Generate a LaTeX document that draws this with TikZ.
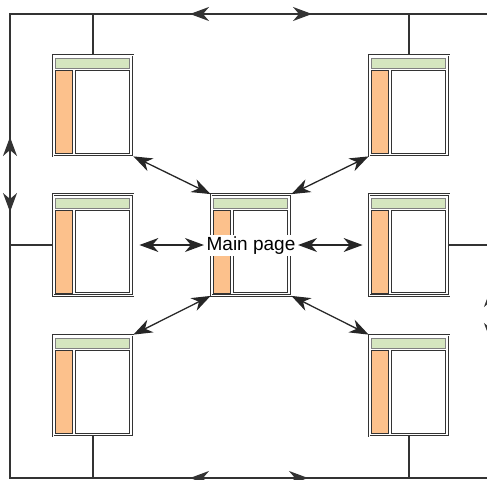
\documentclass[tikz,border=0pt]{standalone}
\usepackage{fontspec}
\setmainfont{Liberation Sans}
\usetikzlibrary{arrows.meta}
\definecolor{barGreen}{HTML}{D5E6BF}
\definecolor{barOrange}{HTML}{FCC18C}
\definecolor{lineGray}{HTML}{333333}
\begin{document}
\begin{tikzpicture}[x=1pt, y=-1pt, >={Stealth[length=19pt, width=14pt, inset=6pt]},
	page/.style={rectangle, draw=lineGray, double=white, double distance=0.8pt, line width=0.8pt, minimum width=80pt, minimum height=101pt, inner sep=0pt},
	green bar/.style={fill=barGreen, draw=gray, line width=0.6pt},
	side bar/.style={fill=barOrange, draw=lineGray, line width=0.6pt},
	text area/.style={fill=white, draw=lineGray, line width=0.9pt},
	link/.style={draw=black!85, line width=1.3pt},
	frame line/.style={draw=lineGray, line width=1.5pt}]
	\useasboundingbox (0,0) rectangle (487,479);
	% the seven pages
	\foreach \n/\px/\py in {TL/93/105.5, ML/93/245, BL/93/385.5, C/251/245, TR/409/105.5, MR/409/245, BR/409/385.5} {
		\node[page] (\n) at (\px,\py) {};
		\begin{scope}[shift={(\px,\py)}]
			\filldraw[green bar] (-38,-46.8) rectangle (36.3,-37.2);
			\filldraw[side bar] (-38,-34.8) rectangle (-21,47.8);
			\filldraw[text area] (-18,-34.8) rectangle (36.3,47.8);
		\end{scope}
	}
	\node[font=\fontsize{19}{21}\selectfont, fill=white, inner sep=1.5pt] (main) at (251,245.5) {Main page};
	% links to the main page
	\draw[link, <->, shorten <=6pt, shorten >=1pt] (ML.east) -- (ML.east -| main.west);
	\draw[link, <->, shorten <=1pt, shorten >=6pt] (MR.west -| main.east) -- (MR.west);
	\draw[link, <->] (TL.south east) -- (C.north west);
	\draw[link, <->] (TR.south west) -- (C.north east);
	\draw[link, <->] (BL.north east) -- (C.south west);
	\draw[link, <->] (BR.north west) -- (C.south east);
	% outer ring
	\coordinate (nw) at (10,14);
	\coordinate (se) at (491,478);
	\draw[frame line] (nw) rectangle (se);
	\draw[frame line] (TL.north) -- (TL.north |- nw);
	\draw[frame line] (TR.north) -- (TR.north |- nw);
	\draw[frame line] (BL.south) -- (BL.south |- se);
	\draw[frame line] (BR.south) -- (BR.south |- se);
	\draw[frame line] (ML.west) -- (ML.west -| nw);
	\draw[frame line] (MR.east) -- (MR.east -| se);
	\coordinate (ta) at (190,14);
	\coordinate (tb) at (312,14);
	\coordinate (la) at (10,137);
	\coordinate (lb) at (10,212);
	\coordinate (ra) at (491,288);
	\coordinate (rb) at (491,342);
	\coordinate (ba) at (190,478);
	\coordinate (bb) at (308,478);
	\draw[frame line, <->] (ta) -- (tb);
	\draw[frame line, <->] (la) -- (lb);
	\draw[frame line, <->] (ra) -- (rb);
	\draw[frame line, <->] (ba) -- (bb);
\end{tikzpicture}
\end{document}
